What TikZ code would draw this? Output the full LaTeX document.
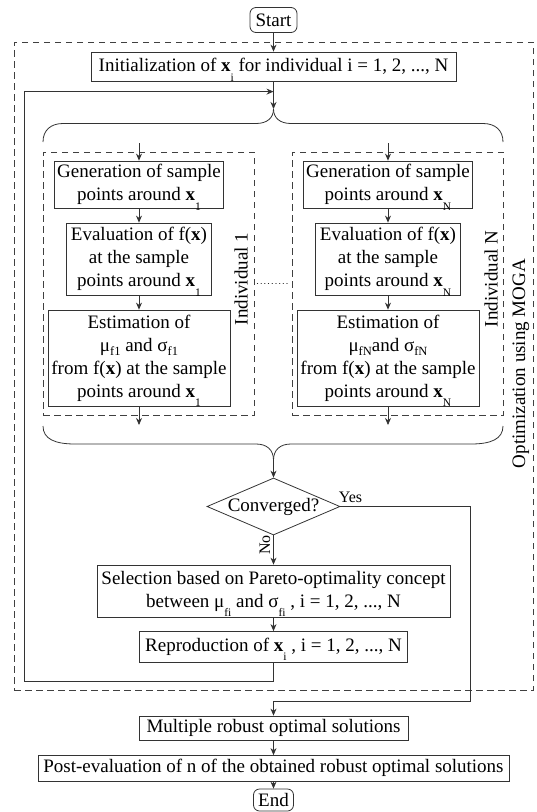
\documentclass[tikz,border=0pt]{standalone}
\usepackage{fontspec}
\setmainfont{Liberation Serif}
\usetikzlibrary{shapes.geometric,arrows.meta}
\newcommand\msz{\fontsize{19}{23}\selectfont}
\newcommand\ssz{\fontsize{16}{18}\selectfont}
\newcommand\lsub[1]{\smash{\raisebox{-0.5em}{\fontsize{11.5}{11.5}\selectfont #1}}}
\newcommand\nsub[1]{\smash{\raisebox{-0.22em}{\fontsize{12.5}{12.5}\selectfont #1}}}
\newcommand\bx{\textbf{x}}
\tikzset{
  ln/.style={draw=black!80, line width=0.8pt},
  arr/.style={ln, -{Stealth[length=7pt,width=6pt]}},
  box/.style={ln, rectangle, inner sep=0pt, align=center, font=\msz, text=black},
  rbox/.style={box, rounded corners=6pt},
  dbox/.style={draw=black!75, line width=0.8pt, dash pattern=on 6.5pt off 4.5pt, rectangle, inner sep=0pt},
  lab/.style={font=\ssz, inner sep=0pt, text=black},
  rlab/.style={font=\msz, inner sep=0pt, text=black, rotate=90},
  dots/.style={draw=black!85, line width=1.2pt, line cap=round, dash pattern=on 0.1pt off 3.6pt}
}
\begin{document}
\begin{tikzpicture}[x=1pt,y=-1pt]
\useasboundingbox (0,0) rectangle (536,812);
% outer dashed
\node[dbox, minimum width=518.6pt, minimum height=648.6pt] (outer) at (273.7,366.3) {};
\node[rlab] (moga) at (521,363.5) {Optimization using MOGA};
% top
\node[rbox, minimum width=47pt, minimum height=25pt] (start) at (273.5,20) {Start};
\node[box, minimum width=365pt, minimum height=29pt] (init) at (273.5,66.5)
  {Initialization of \bx\lsub{i} for individual i = 1, 2, ..., N};
\coordinate (cuspT) at (273.5,109);
\coordinate (cuspB) at (273.5,460);
% individual boxes
\node[dbox, minimum width=211pt, minimum height=263pt] (ind1) at (148.5,283.5) {};
\node[dbox, minimum width=211pt, minimum height=263pt] (indN) at (397.5,283.5) {};
\node[rlab] (l1) at (241,279) {Individual 1};
\node[rlab] (lN) at (491,279) {Individual N};
% column 1
\node[box, minimum width=169pt, minimum height=47pt] (gen1) at (139,184.5)
  {Generation of sample\\points around \bx\lsub{1}};
\node[box, minimum width=145pt, minimum height=72pt] (eval1) at (139,259)
  {Evaluation of f(\bx)\\at the sample\\points around \bx\lsub{1}};
\node[box, minimum width=182pt, minimum height=96pt] (est1) at (139,358)
  {Estimation of\\μ\nsub{f1} and σ\nsub{f1}\\from f(\bx) at the sample\\points around \bx\lsub{1}};
% column N
\node[box, minimum width=169pt, minimum height=47pt] (genN) at (388,184.5)
  {Generation of sample\\points around \bx\lsub{N}};
\node[box, minimum width=145pt, minimum height=72pt] (evalN) at (388,259)
  {Evaluation of f(\bx)\\at the sample\\points around \bx\lsub{N}};
\node[box, minimum width=182pt, minimum height=96pt] (estN) at (388,358)
  {Estimation of\\μ\nsub{fN}and σ\nsub{fN}\\from f(\bx) at the sample\\points around \bx\lsub{N}};
\coordinate (in1) at (139,143);
\coordinate (inN) at (388,143);
\coordinate (out1) at (139,425);
\coordinate (outN) at (388,425);
% decision etc
\node[ln, diamond, aspect=2.33, minimum width=133pt, minimum height=57pt, inner sep=0pt,
  label={[font=\msz,text=black]center:Converged?}] (conv) at (273.5,506.5) {};
\node[box, minimum width=353pt, minimum height=52pt] (sel) at (273.5,591)
  {Selection based on Pareto-optimality concept\\between μ\lsub{fi} and σ\lsub{fi} , i = 1, 2, ..., N};
\node[box, minimum width=268.5pt, minimum height=30.5pt] (repro) at (273.5,646.75)
  {Reproduction of \bx\lsub{i} , i = 1, 2, ..., N};
\node[box, minimum width=269pt, minimum height=24pt] (multi) at (273.5,728)
  {Multiple robust optimal solutions};
\node[box, minimum width=471pt, minimum height=25.5pt] (post) at (273.5,768.25)
  {Post-evaluation of n of the obtained robust optimal solutions};
\node[rbox, minimum width=40pt, minimum height=22pt] (end) at (273.5,800) {End};
\node[lab] (yes) at (350.5,497) {Yes};
\node[lab, rotate=90] (no) at (265,545) {No};
\coordinate (fbB) at (24,681);
\coordinate (fbT) at (24,91.6);
\coordinate (yR) at (470,701.5);
% connectors
\draw[arr] (start) -- (init);
\draw[arr] (init.south) -- (cuspT);
\draw[arr] (repro.south) -- (repro.south |- fbB) -- (fbB) -- (fbT) -- (fbT -| init.south);
\draw[ln] (43,142) .. controls (43,130) and (51,123.5) .. (63,123.5) -- (256,123.5) .. controls (267,123.5) and (273.5,118) .. (cuspT);
\draw[ln] (503,142) .. controls (503,130) and (495,123.5) .. (483,123.5) -- (291,123.5) .. controls (280,123.5) and (273.5,118) .. (cuspT);
\draw[ln] (43,426) .. controls (43,439) and (55,444) .. (75,444) -- (256,444) .. controls (267,444) and (273.5,450) .. (cuspB);
\draw[ln] (503,426) .. controls (503,439) and (491,444) .. (471,444) -- (291,444) .. controls (280,444) and (273.5,450) .. (cuspB);
\draw[arr] (in1) -- (gen1.north);
\draw[arr] (gen1) -- (eval1);
\draw[arr] (eval1) -- (est1);
\draw[arr] (est1) -- (out1);
\draw[arr] (inN) -- (genN.north);
\draw[arr] (genN) -- (evalN);
\draw[arr] (evalN) -- (estN);
\draw[arr] (estN) -- (outN);
\draw[dots] ([xshift=3pt]ind1.east) -- ([xshift=-3pt]indN.west);
\draw[arr] (cuspB) -- (conv.north);
\draw[arr] (conv.south) -- (sel.north);
\draw[arr] (sel) -- (repro);
\draw[arr] (conv.east) -| (yR) -| (multi.north);
\draw[arr] (multi) -- (post);
\draw[arr] (post) -- (end);
\end{tikzpicture}
\end{document}
